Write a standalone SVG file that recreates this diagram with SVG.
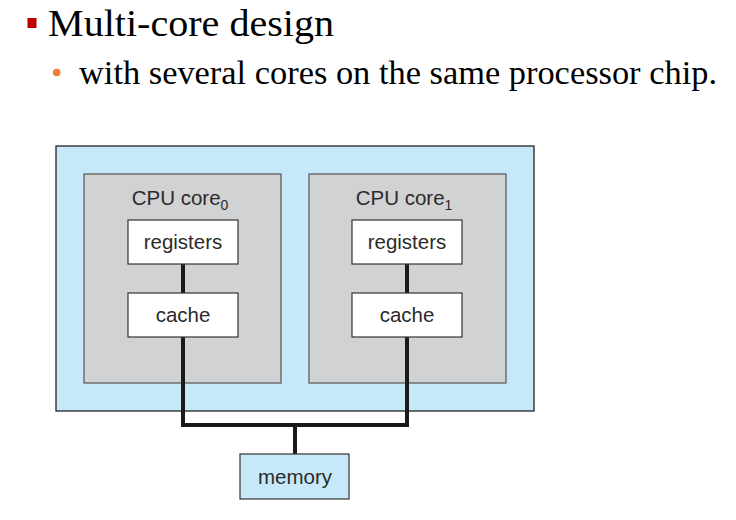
<svg xmlns="http://www.w3.org/2000/svg" width="736" height="520" viewBox="0 0 736 520">
<style>
.h{font-family:"Liberation Serif","DejaVu Serif",serif;fill:#000}
.t{font-family:"Liberation Sans",Arial,sans-serif;font-size:20.5px;fill:#2b2b2b;text-anchor:middle}
.chip{fill:#c6e8f8;stroke:#222;stroke-width:1.3}
.core{fill:#d1d2d4;stroke:#555;stroke-width:1.2}
.box{fill:#fff;stroke:#333;stroke-width:1.2}
.mem{fill:#c6e8f8;stroke:#333;stroke-width:1.2}
.wire{fill:none;stroke:#1a1a1a;stroke-width:4}
</style>
<rect width="736" height="520" fill="#fff"/>
<g id="title">
<rect x="27.5" y="18" width="9" height="10" fill="#c00000"/>
<text class="h" x="48" y="36" font-size="38" textLength="286" lengthAdjust="spacingAndGlyphs">Multi-core design</text>
<circle cx="56.7" cy="72.5" r="3.8" fill="#ed7d31"/>
<text class="h" x="79" y="83.5" font-size="34" textLength="638" lengthAdjust="spacingAndGlyphs">with several cores on the same processor chip.</text>
</g>
<g id="chip"><rect class="chip" x="56" y="146" width="478" height="265"/></g>
<g id="core0">
<rect class="core" x="84" y="174" width="197" height="209"/>
<text class="t" x="180" y="205">CPU core<tspan font-size="14" dy="5">0</tspan></text>
</g>
<g id="core1">
<rect class="core" x="309" y="174" width="197" height="209"/>
<text class="t" x="404" y="205">CPU core<tspan font-size="14" dy="5">1</tspan></text>
</g>
<g id="connectors">
<line class="wire" x1="183" y1="264" x2="183" y2="294"/>
<line class="wire" x1="407" y1="264" x2="407" y2="294"/>
<polyline class="wire" points="183,337 183,425 407,425 407,337"/>
<line class="wire" x1="295" y1="425" x2="295" y2="455"/>
</g>
<g id="registers0"><rect class="box" x="128" y="220" width="110" height="44"/><text class="t" x="183" y="249">registers</text></g>
<g id="cache0"><rect class="box" x="128" y="293" width="110" height="44"/><text class="t" x="183" y="322">cache</text></g>
<g id="registers1"><rect class="box" x="352" y="220" width="110" height="44"/><text class="t" x="407" y="249">registers</text></g>
<g id="cache1"><rect class="box" x="352" y="293" width="110" height="44"/><text class="t" x="407" y="322">cache</text></g>
<g id="memory"><rect class="mem" x="240" y="454" width="109" height="45"/><text class="t" x="295" y="484">memory</text></g>
</svg>
